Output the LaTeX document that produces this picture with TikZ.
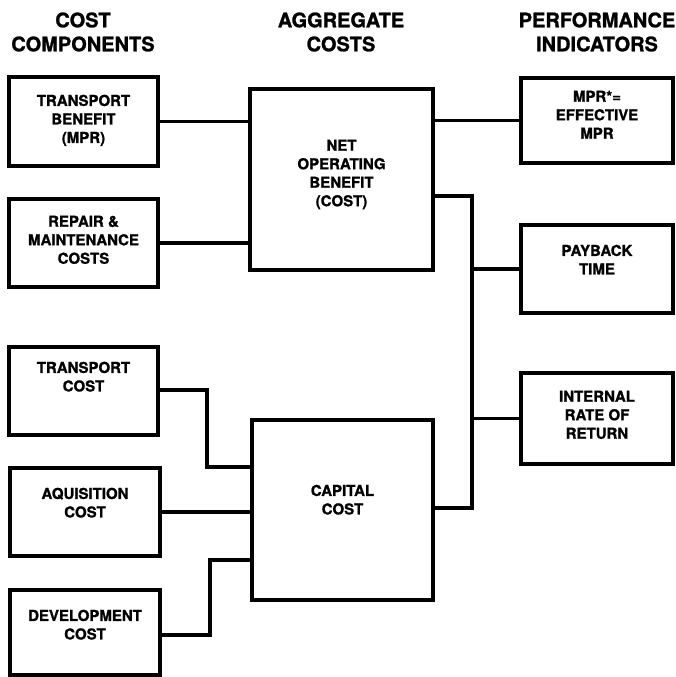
\documentclass[tikz,border=0pt]{standalone}
\usepackage{fontspec}
\setmainfont{TeX Gyre Heros}[BoldFeatures={FakeBold=1.2}]
\begin{document}
\begin{tikzpicture}[x=1pt,y=-1pt,
  box/.style={draw, line width=4pt, inner sep=0pt},
  lab/.style={anchor=north, align=center, inner sep=0pt, font=\fontsize{15}{18.5}\selectfont\bfseries},
  ttl/.style={align=center, inner sep=0pt, font=\fontsize{20}{24}\selectfont\bfseries},
  conn/.style={line width=3.4pt, line cap=rect, line join=miter}]
\useasboundingbox (0,0) rectangle (675,677);
% titles
\node[ttl] (t1) at (83,32) {COST\\COMPONENTS};
\node[ttl] (t2) at (341,32) {AGGREGATE\\COSTS};
\node[ttl] (t3) at (597,32) {PERFORMANCE\\INDICATORS};
% left column
\node[box, minimum width=149pt, minimum height=89pt,
  label={[lab, yshift=-19.6pt]north:TRANSPORT\\BENEFIT\\(MPR)}] (tb) at (83.5,121.5) {};
\node[box, minimum width=149pt, minimum height=88pt,
  label={[lab, yshift=-18.6pt]north:REPAIR \&\\MAINTENANCE\\COSTS}] (rm) at (83.5,243) {};
\node[box, minimum width=149pt, minimum height=88pt,
  label={[lab, yshift=-16.6pt]north:TRANSPORT\\COST}] (tc) at (83.5,391) {};
\node[box, minimum width=150pt, minimum height=88pt,
  label={[lab, yshift=-21.6pt]north:AQUISITION\\COST}] (aq) at (85,512) {};
\node[box, minimum width=150pt, minimum height=85pt,
  label={[lab, yshift=-21.6pt]north:DEVELOPMENT\\COST}] (dv) at (85,632.5) {};
% centre column
\node[box, minimum width=183pt, minimum height=181pt,
  label={[lab, yshift=-52.6pt]north:NET\\OPERATING\\BENEFIT\\(COST)}] (nob) at (341.5,179.5) {};
\node[box, minimum width=181pt, minimum height=180pt,
  label={[lab, yshift=-66.6pt]north:CAPITAL\\COST}] (cc) at (342.5,510) {};
% right column
\node[box, minimum width=152pt, minimum height=85pt,
  label={[lab, yshift=-14.6pt]north:MPR*=\\EFFECTIVE\\MPR}] (mpr) at (597,120.5) {};
\node[box, minimum width=152pt, minimum height=88pt,
  label={[lab, yshift=-21.6pt]north:PAYBACK\\TIME}] (pb) at (597,269) {};
\node[box, minimum width=152pt, minimum height=91pt,
  label={[lab, yshift=-19.6pt]north:INTERNAL\\RATE OF\\RETURN}] (irr) at (597,418.5) {};
% junction coordinates
\coordinate (bt) at (472,196);
\coordinate (bb) at (472,508);
\coordinate (k1a) at (207,390);
\coordinate (k1b) at (207,467);
\coordinate (k2a) at (210,635);
\coordinate (k2b) at (210,560);
% connectors
\draw[conn] (tb.east) -- (tb.east -| nob.west);
\draw[conn] (rm.east) -- (rm.east -| nob.west);
\draw[conn] (mpr.west) -- (mpr.west -| nob.east);
\draw[conn] (nob.east |- bt) -- (bt) -- (bb) -- (bb -| cc.east);
\draw[conn] (pb.west) -- (pb.west -| bt);
\draw[conn] (irr.west) -- (irr.west -| bt);
\draw[conn] (tc.east |- k1a) -- (k1a) -- (k1b) -- (k1b -| cc.west);
\draw[conn] (aq.east) -- (aq.east -| cc.west);
\draw[conn] (dv.east |- k2a) -- (k2a) -- (k2b) -- (k2b -| cc.west);
\end{tikzpicture}
\end{document}
